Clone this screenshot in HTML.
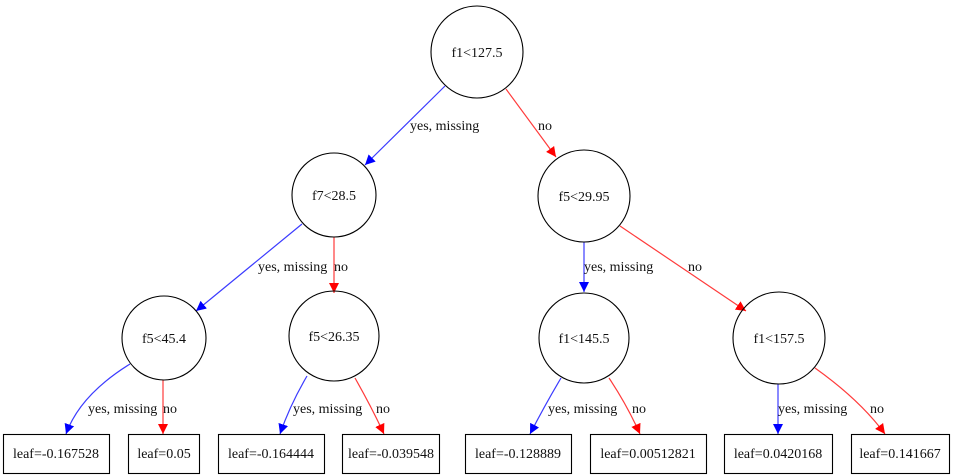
<!DOCTYPE html>
<html><head><meta charset="utf-8"><style>
html,body{margin:0;padding:0;background:#fff;}
svg{display:block;}
text{font-family:"Liberation Serif",serif;font-size:14px;fill:#111;}
</style></head><body>
<svg width="955" height="475" viewBox="0 0 955 475" xmlns="http://www.w3.org/2000/svg">
<defs>
<marker id="b" viewBox="0 0 10 10" refX="10" refY="5" markerWidth="10" markerHeight="10" markerUnits="userSpaceOnUse" orient="auto"><path d="M0,0 L10,5 L0,10 z" fill="#0000ff"/></marker>
<marker id="r" viewBox="0 0 10 10" refX="10" refY="5" markerWidth="10" markerHeight="10" markerUnits="userSpaceOnUse" orient="auto"><path d="M0,0 L10,5 L0,10 z" fill="#ff0000"/></marker>
</defs>
<g fill="none" stroke-width="1.2">
<path d="M445,86 L365,165" stroke="#3b3bff" marker-end="url(#b)"/>
<path d="M506,89 L556,157" stroke="#ff3b3b" marker-end="url(#r)"/>
<path d="M302,224 L196,311" stroke="#3b3bff" marker-end="url(#b)"/>
<path d="M334,237 L334,293" stroke="#ff3b3b" marker-end="url(#r)"/>
<path d="M584,242 L584,292" stroke="#3b3bff" marker-end="url(#b)"/>
<path d="M620,226 L746,311" stroke="#ff3b3b" marker-end="url(#r)"/>
<path d="M130,364 Q80,395 66,434" stroke="#3b3bff" marker-end="url(#b)"/>
<path d="M163,380 L163,434" stroke="#ff3b3b" marker-end="url(#r)"/>
<path d="M307,376 Q290,405 280,434" stroke="#3b3bff" marker-end="url(#b)"/>
<path d="M355,378 Q372,408 384,434" stroke="#ff3b3b" marker-end="url(#r)"/>
<path d="M561,378 Q545,405 530,434" stroke="#3b3bff" marker-end="url(#b)"/>
<path d="M609,378 Q627,405 640,434" stroke="#ff3b3b" marker-end="url(#r)"/>
<path d="M778,384 L778,434" stroke="#3b3bff" marker-end="url(#b)"/>
<path d="M815,368 Q860,400 885,434" stroke="#ff3b3b" marker-end="url(#r)"/>
</g>
<g fill="none" stroke="#000" stroke-width="1.1">
<circle cx="477" cy="52" r="46"/>
<circle cx="334" cy="195" r="42"/>
<circle cx="584" cy="196" r="46"/>
<circle cx="164" cy="338" r="42"/>
<circle cx="334" cy="336" r="45"/>
<circle cx="584" cy="338" r="45"/>
<circle cx="779" cy="338" r="46"/>
<rect x="3.5" y="434.5" width="106" height="39"/>
<rect x="128.5" y="434.5" width="71" height="39"/>
<rect x="218.5" y="434.5" width="106" height="39"/>
<rect x="342.5" y="434.5" width="97" height="39"/>
<rect x="465.5" y="434.5" width="106" height="39"/>
<rect x="590.5" y="434.5" width="116" height="39"/>
<rect x="724.5" y="434.5" width="108" height="39"/>
<rect x="851.5" y="434.5" width="98" height="39"/>
</g>
<g text-anchor="middle">
<text x="477" y="57">f1&lt;127.5</text>
<text x="334" y="200">f7&lt;28.5</text>
<text x="584" y="201">f5&lt;29.95</text>
<text x="164" y="343">f5&lt;45.4</text>
<text x="334" y="341">f5&lt;26.35</text>
<text x="584" y="343">f1&lt;145.5</text>
<text x="779" y="343">f1&lt;157.5</text>
<text x="56" y="458">leaf=-0.167528</text>
<text x="164" y="458">leaf=0.05</text>
<text x="271" y="458">leaf=-0.164444</text>
<text x="391" y="458">leaf=-0.039548</text>
<text x="518" y="458">leaf=-0.128889</text>
<text x="648" y="458">leaf=0.00512821</text>
<text x="778" y="458">leaf=0.0420168</text>
<text x="900" y="458">leaf=0.141667</text>
</g>
<g>
<text x="410" y="130">yes, missing</text>
<text x="538" y="130">no</text>
<text x="258" y="271">yes, missing</text>
<text x="334" y="271">no</text>
<text x="584" y="271">yes, missing</text>
<text x="688" y="271">no</text>
<text x="88" y="413">yes, missing</text>
<text x="163" y="413">no</text>
<text x="293" y="413">yes, missing</text>
<text x="376" y="413">no</text>
<text x="548" y="413">yes, missing</text>
<text x="632" y="413">no</text>
<text x="778" y="413">yes, missing</text>
<text x="870" y="413">no</text>
</g>
</svg>
</body></html>
